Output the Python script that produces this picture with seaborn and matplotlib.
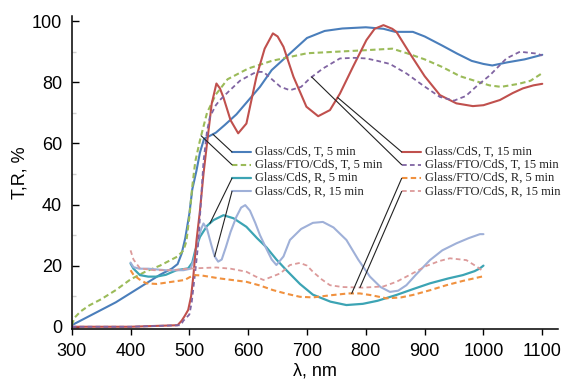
import numpy as np
import matplotlib
matplotlib.use("Agg")
import matplotlib.pyplot as plt
from matplotlib.lines import Line2D
from matplotlib.ticker import MultipleLocator
import seaborn as sns

# --- Data (wavelength in nm, T/R in %) ---
wl_t5 = [300, 325, 350, 375, 400, 425, 450, 470, 480, 487, 493, 500, 505, 512, 518, 525, 535, 545,
         560, 580, 600, 620, 640, 660, 680, 700, 730, 760, 800, 830, 850, 880, 900, 930, 955, 980,
         1000, 1015, 1040, 1070, 1100]
t5 = [0.5, 3, 5.5, 8, 11, 14, 17, 19, 20.5, 24, 29, 37, 45, 51, 57, 61.5, 62.5, 63.5,
      66, 69.5, 74, 78.5, 84, 87.5, 91, 94.5, 96.8, 97.6, 98, 97.5, 96.5, 96.5, 95, 92, 89.4, 87,
      86, 85.5, 86.5, 87.5, 89]

wl_fto_t5 = [300, 305, 315, 330, 350, 375, 400, 425, 450, 470, 480, 490, 495, 500, 505, 510, 518,
             530, 545, 565, 600, 640, 700, 750, 800, 845, 870, 900, 930, 960, 985, 1010, 1030,
             1060, 1080, 1100]
fto_t5 = [0.5, 3, 5, 7, 9, 12, 15.5, 18, 20, 22, 23, 25, 28, 36, 46, 54, 61,
          70, 76, 81, 84.5, 87, 89.5, 90, 90.5, 91, 89.5, 87.5, 85, 82, 80.5, 79, 78.5,
          79.5, 80.5, 83]

wl_t15 = [300, 400, 480, 487, 492, 498, 503, 507, 512, 518, 524, 530, 538, 546, 552, 558, 570, 583,
          597, 614, 628, 642, 650, 660, 677, 699, 719, 739, 756, 778, 801, 815, 830, 845, 852, 875,
          900, 926, 954, 982, 1000, 1028, 1050, 1067, 1085, 1100]
t15 = [0, 0, 0.5, 2, 3.5, 5.5, 10, 17, 28, 38, 50, 60, 73, 79.6, 78, 75, 67.6, 63.3,
       66.5, 81.8, 91, 96, 95, 91.6, 81.8, 72, 68.9, 70.9, 76.3, 85, 93.8, 97.5, 98.7, 97.5, 96.5, 89.4,
       82, 75.8, 73.1, 72.2, 72.5, 74.2, 76.5, 78, 79, 79.5]

wl_fto_t15 = [300, 400, 485, 490, 500, 504, 510, 515, 520, 524, 530, 535, 545, 552, 569, 586, 603,
              614, 626, 642, 655, 671, 690, 705, 727, 756, 780, 801, 820, 841, 869, 897, 926, 950,
              970, 990, 1011, 1039, 1062, 1090, 1100]
fto_t15 = [0, 0, 0.5, 2, 4, 8, 18, 27, 42, 54, 64, 68.7, 72.5, 74.2, 77.4, 80.5, 82.3,
           83.4, 83.4, 80.7, 78.5, 77.4, 78.5, 81.3, 84.5, 87.8, 88, 87.8, 87, 86, 82.9, 79, 75.2, 74,
           75.5, 79, 82.3, 87.8, 90, 89.4, 88.8]

wl_r5 = [400, 405, 416, 430, 444, 460, 478, 498, 505, 510, 518, 530, 541, 558, 575, 597, 615, 631,
         648, 665, 688, 710, 740, 767, 795, 820, 852, 880, 909, 940, 965, 985, 994, 1000]
r5 = [20.7, 19, 16.9, 16.4, 16.4, 17, 18.5, 19.1, 21, 25, 29.4, 33, 34.9, 36.5, 35.5, 32.7, 29, 26,
      22, 18.5, 14, 10.5, 8.2, 7.1, 7.5, 8.5, 10.4, 12.3, 14.2, 15.8, 16.9, 18.2, 19.1, 20]

wl_r15 = [400, 405, 415, 430, 460, 490, 502, 508, 514, 520, 524, 530, 537, 543, 549, 555, 562, 570,
          580, 588, 595, 603, 612, 620, 631, 640, 648, 660, 671, 690, 710, 727, 745, 767, 787, 807,
          825, 841, 855, 869, 885, 909, 930, 954, 975, 994, 1000]
r15 = [21, 19.5, 19, 19, 18.5, 18.5, 19, 22, 28, 32, 33.8, 32, 27, 23, 21.3, 22, 26, 31,
       36, 39, 39.8, 38, 34, 30, 25.5, 22, 20.2, 23, 28.4, 32, 34, 34.3, 32.5, 28.4, 22, 16.4,
       13, 11.4, 11.8, 13.6, 17, 21.8, 25, 27.3, 29, 30.3, 30.3]

wl_fto_r5 = [400, 405, 415, 427, 445, 470, 492, 507, 520, 552, 597, 620, 642, 665, 688, 710, 740,
             770, 790, 810, 835, 860, 880, 910, 937, 965, 997, 1000]
fto_r5 = [18.5, 17, 15.5, 14.2, 14, 14.7, 15.3, 16.9, 16.8, 15.8, 14.7, 13.5, 12, 10.8, 9.8, 9.6, 10.3,
          10.9, 10.9, 10.3, 9.3, 9.6, 10.4, 12, 13.6, 15, 16.4, 16.5]

wl_fto_r15 = [400, 405, 416, 440, 470, 497, 520, 546, 570, 597, 612, 626, 642, 655, 671, 688, 700,
              710, 725, 739, 760, 795, 830, 852, 875, 903, 925, 943, 971, 990, 997, 1000]
fto_r15 = [25, 22, 19.1, 18.5, 18.5, 19, 19.2, 19.4, 19, 18, 16.5, 15.3, 16.5, 17.5, 20.2, 20.9, 20,
           18, 15.5, 13.6, 13, 12.8, 13.2, 14.7, 17, 19.9, 21.5, 22.4, 21.8, 19.5, 18.5, 18]

labels = ["Glass/CdS, T, 5 min", "Glass/FTO/CdS, T, 5 min", "Glass/CdS, R, 5 min", "Glass/CdS, R, 15 min",
          "Glass/CdS, T, 15 min", "Glass/FTO/CdS, T, 15 min", "Glass/FTO/CdS, R, 5 min",
          "Glass/FTO/CdS, R, 15 min"]
series = [(wl_t5, t5), (wl_fto_t5, fto_t5), (wl_r5, r5), (wl_r15, r15),
          (wl_t15, t15), (wl_fto_t15, fto_t15), (wl_fto_r5, fto_r5), (wl_fto_r15, fto_r15)]

# styles: colour, linestyle, linewidth
styles = [("#4a7ebb", "-", 1.5), ("#9bbb59", (0, (2.6, 1.6)), 1.5), ("#3ca4b4", "-", 1.6),
          ("#9fb0d8", "-", 1.5), ("#c0504d", "-", 1.5), ("#8064a2", (0, (2.6, 1.8)), 1.3),
          ("#f0913f", (0, (2.6, 1.6)), 1.5), ("#dc9a9a", (0, (2.6, 1.8)), 1.3)]

# leader lines: wavelength on the curve, key position (x start, y) in data units
leader_wl = [540, 520, 535, 543, 752, 708, 776, 790]
key_x = [572.5, 572.5, 572.5, 572.5, 861, 861, 861, 861]
key_y = [57.2, 53.0, 48.6, 44.3, 57.2, 53.0, 48.6, 44.3]
key_len = 33

sns.set_style("ticks")
plt.rcParams["font.family"] = ["Liberation Sans", "DejaVu Sans"]
plt.rcParams["axes.edgecolor"] = "black"
plt.rcParams["xtick.color"] = "black"
plt.rcParams["ytick.color"] = "black"
plt.rcParams["text.color"] = "black"
plt.rcParams["axes.labelcolor"] = "black"

fig = plt.figure(figsize=(5.63, 3.83), dpi=100)
ax = fig.add_axes([0.1274, 0.1405, 0.864, 0.817])

for (wl, val), (col, ls, lw) in zip(series, styles):
    sns.lineplot(x=wl, y=val, ax=ax, color=col, linestyle=ls, linewidth=lw,
                 estimator=None, sort=False)

for i, lab in enumerate(labels):
    wl, val = series[i]
    col, ls, lw = styles[i]
    tx = leader_wl[i]
    ty = float(np.interp(tx, wl, val))
    ax.annotate("", xy=(tx, ty), xytext=(key_x[i], key_y[i]),
                arrowprops=dict(arrowstyle="-", color="#222222", lw=0.8, shrinkA=0, shrinkB=0))
    ax.add_line(Line2D([key_x[i], key_x[i] + key_len], [key_y[i], key_y[i]],
                       color=col, linestyle=ls, linewidth=lw))
    ax.text(key_x[i] + key_len + 6, key_y[i], lab, va="center", ha="left", fontsize=9,
            family=["Liberation Serif", "DejaVu Serif"], color="#222222")

ax.set_xlim(300, 1127)
ax.set_ylim(-0.8, 101.6)
ax.set_xticks(range(300, 1101, 100))
ax.set_yticks(range(0, 101, 20))
ax.yaxis.set_minor_locator(MultipleLocator(10))
ax.tick_params(axis="y", which="major", direction="in", length=5, width=1, labelsize=13, pad=7)
ax.tick_params(axis="y", which="minor", direction="in", length=3, width=1, color="#d0d0d0")
ax.tick_params(axis="x", which="major", direction="out", length=4, width=1, labelsize=13, pad=6)
for s in ["left", "bottom"]:
    ax.spines[s].set_linewidth(1.1)
sns.despine(ax=ax)

ax.set_xlabel("λ, nm", fontsize=13, labelpad=2)
ax.set_ylabel("T,R, %", fontsize=13, labelpad=2)

fig.savefig("out.png", dpi=100)
